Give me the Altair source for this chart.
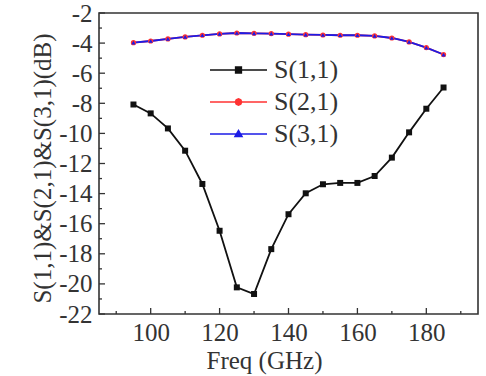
import altair as alt
import pandas as pd

freq = [95, 100, 105, 110, 115, 120, 125, 130, 135, 140, 145, 150, 155, 160, 165, 170, 175, 180, 185]
s11 = [-8.08, -8.67, -9.67, -11.15, -13.36, -16.47, -20.23, -20.67, -17.69, -15.37,
       -13.98, -13.38, -13.29, -13.29, -12.83, -11.61, -9.93, -8.36, -6.95]
s21 = [-3.97, -3.86, -3.72, -3.59, -3.48, -3.39, -3.33, -3.35, -3.37, -3.41,
       -3.44, -3.46, -3.48, -3.48, -3.52, -3.66, -3.92, -4.30, -4.76]
s31 = [-3.97, -3.86, -3.72, -3.59, -3.48, -3.39, -3.33, -3.35, -3.37, -3.41,
       -3.44, -3.46, -3.48, -3.48, -3.52, -3.66, -3.92, -4.30, -4.76]
series = ["S(1,1)", "S(2,1)", "S(3,1)"]
colors = ["#111111", "#ff3333", "#1c1ce6"]

x_major = [100, 120, 140, 160, 180]
x_minor = [90, 110, 130, 150, 170, 190]
y_major = [-22, -20, -18, -16, -14, -12, -10, -8, -6, -4, -2]
y_minor = [-21, -19, -17, -15, -13, -11, -9, -7, -5, -3]

rows = []
for name, vals in zip(series, [s11, s21, s31]):
    for f, v in zip(freq, vals):
        rows.append({"freq": f, "val": v, "series": name})
df = pd.DataFrame(rows)

FONT = "Liberation Serif"
TXT = "#333333"
W, H = 379, 301
FS = 25

xscale = alt.Scale(domain=[85, 195], nice=False, zero=False)
yscale = alt.Scale(domain=[-22, -2], nice=False, zero=False)

xaxis = alt.Axis(values=x_major, title="Freq (GHz)", titleX=165, titleY=54,
                 titleAlign="center", titleBaseline="alphabetic", labelPadding=6,
                 labelOverlap=False)
yaxis = alt.Axis(values=y_major, title="S(1,1)&S(2,1)&S(3,1)(dB)", titleX=-57, titleY=155,
                 titleAngle=270, titleAlign="center", titleBaseline="middle",
                 labelPadding=7, labelExpr="'' + datum.value", labelOverlap=False)

color_scale = alt.Scale(domain=series, range=colors)

lines = alt.Chart(df).mark_line(strokeWidth=1.8).encode(
    x=alt.X("freq:Q", scale=xscale, axis=xaxis),
    y=alt.Y("val:Q", scale=yscale, axis=yaxis),
    color=alt.Color("series:N", scale=color_scale, legend=None),
    detail="series:N",
)

points = alt.Chart(df).mark_point(filled=True, opacity=1).encode(
    x=alt.X("freq:Q", scale=xscale, axis=xaxis),
    y=alt.Y("val:Q", scale=yscale, axis=yaxis),
    color=alt.Color("series:N", scale=color_scale, legend=None),
    shape=alt.Shape("series:N", scale=alt.Scale(domain=series, range=["square", "circle", "triangle-up"]), legend=None),
    size=alt.Size("series:N", scale=alt.Scale(domain=series, range=[36, 18, 44]), legend=None),
)

legend_paths = [
    "M-1,0H1M-0.1,-0.1H0.1V0.1H-0.1Z",
    "M-1,0H1M-0.11,0L-0.078,-0.078L0,-0.11L0.078,-0.078L0.11,0L0.078,0.078L0,0.11L-0.078,0.078Z",
    "M-1,0H1M-0.12,0.085L0,-0.12L0.12,0.085Z",
]

leg = dict(title=None, orient="none", legendX=110, legendY=44, clipHeight=26, rowPadding=6,
           symbolSize=3249, symbolStrokeWidth=1.6, labelOffset=6, padding=0,
           labelFont=FONT, labelFontSize=FS + 1, labelColor=TXT, symbolOpacity=1)

legend_layer = alt.Chart(df).transform_filter("datum.freq < 0").mark_point(filled=True, opacity=1).encode(
    x=alt.X("freq:Q", scale=xscale, axis=xaxis),
    y=alt.Y("val:Q", scale=yscale, axis=yaxis),
    color=alt.Color("series:N", scale=color_scale, legend=alt.Legend(**leg)),
    stroke=alt.Stroke("series:N", scale=alt.Scale(domain=series, range=colors), legend=alt.Legend(**leg)),
    shape=alt.Shape("series:N", scale=alt.Scale(domain=series, range=legend_paths), legend=alt.Legend(**leg)),
)

def xticks(vals, length):
    return alt.Chart(pd.DataFrame({"v": vals})).mark_rule(color=TXT, strokeWidth=1.3).encode(
        x=alt.X("v:Q", scale=xscale, axis=xaxis),
        y=alt.value(H), y2=alt.value(H - length),
    )

def yticks(vals, length):
    return alt.Chart(pd.DataFrame({"v": vals})).mark_rule(color=TXT, strokeWidth=1.3).encode(
        y=alt.Y("v:Q", scale=yscale, axis=yaxis),
        x=alt.value(0), x2=alt.value(length),
    )

chart = alt.layer(
    lines, xticks(x_major, 6), xticks(x_minor, 3), yticks(y_major, 6), yticks(y_minor, 3),
    points, legend_layer,
).resolve_scale(
    color="independent", shape="independent", stroke="independent"
).properties(
    width=W, height=H,
    autosize=alt.AutoSizeParams(type="none"),
    padding={"left": 99, "top": 13, "right": 8, "bottom": 62},
    background="white",
).configure_view(
    stroke="#333333", strokeWidth=1.6
).configure_axis(
    labelFont=FONT, titleFont=FONT, labelFontSize=FS, titleFontSize=FS,
    labelColor=TXT, titleColor=TXT, titleFontWeight="normal",
    grid=False, domain=False, ticks=False, tickSize=0, labelOverlap=False,
)

chart.save("out.html", embed_options={"renderer": "svg", "actions": False})
